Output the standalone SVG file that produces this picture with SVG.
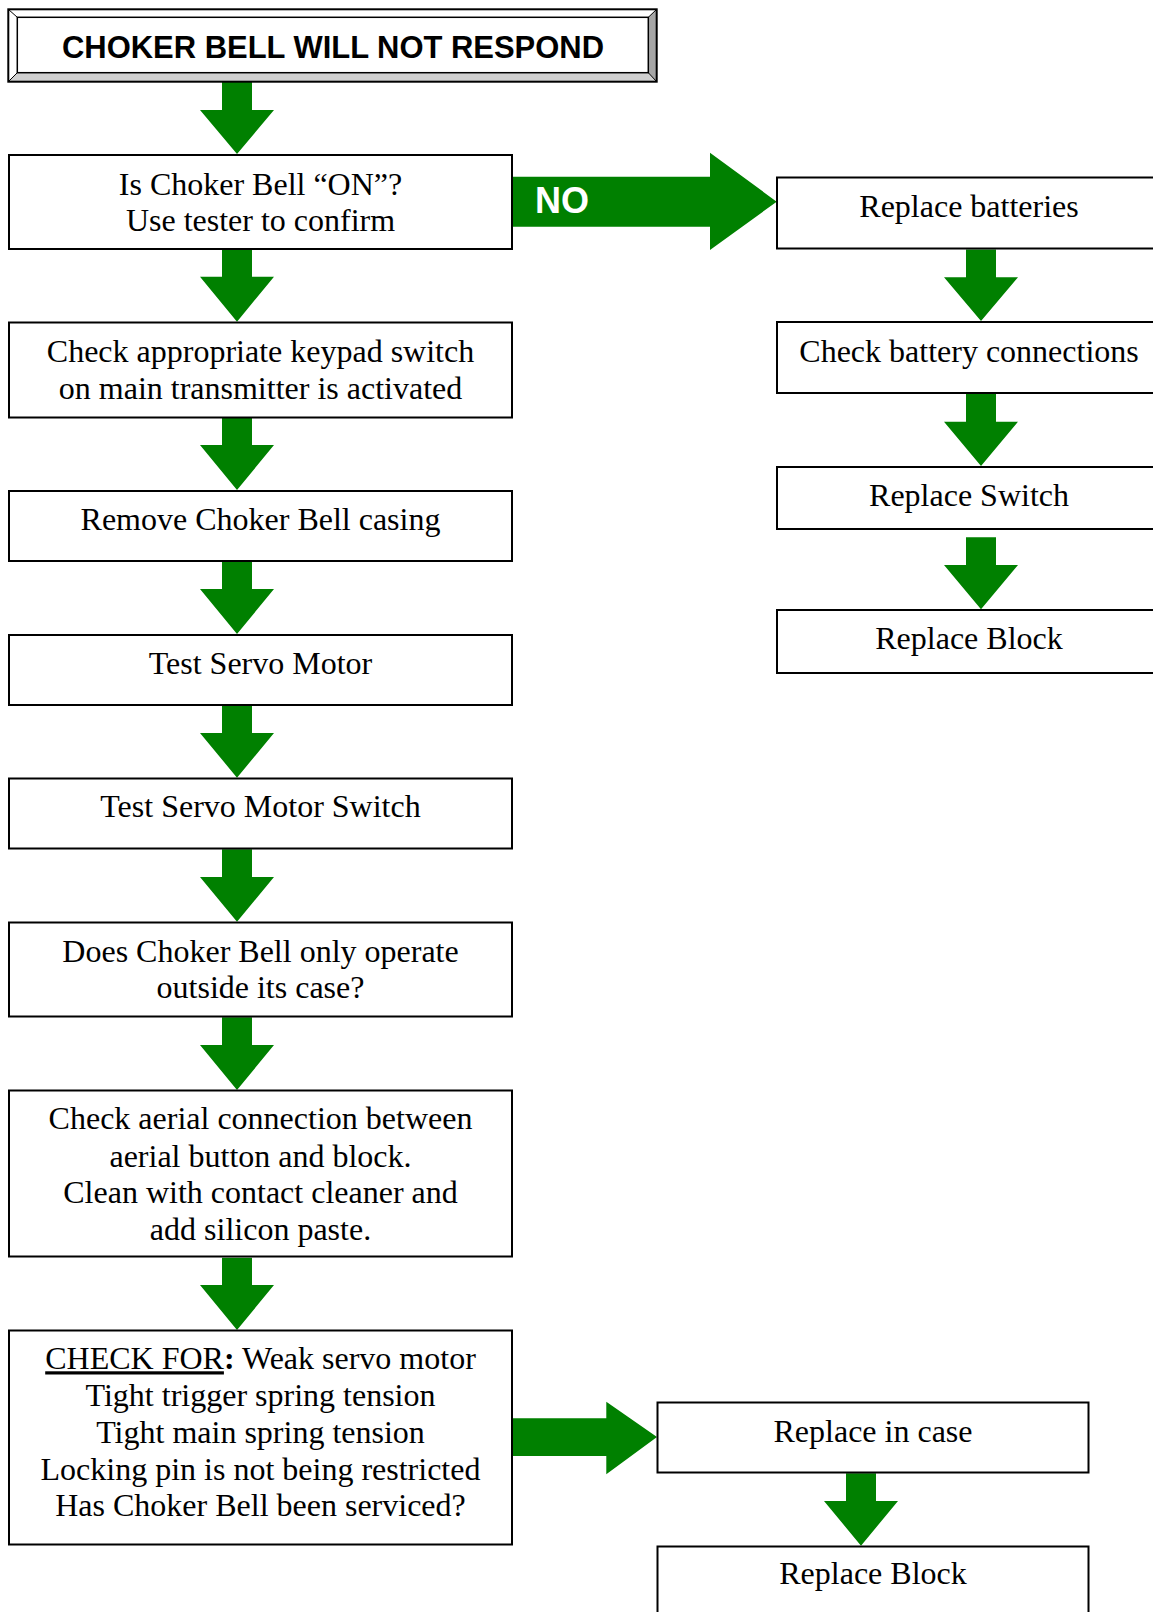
<svg xmlns="http://www.w3.org/2000/svg" width="1153" height="1612" viewBox="0 0 1153 1612">
<style>
.box{fill:#ffffff;stroke:#000000;stroke-width:2}
.t{font-family:"Liberation Serif","Times New Roman",serif;font-size:32px;fill:#000000;text-anchor:middle}
.arr{fill:#008000;stroke:none}
.title{font-family:"Liberation Sans",Arial,sans-serif;font-size:32px;font-weight:bold;fill:#000000;text-anchor:middle}
.lbl{font-family:"Liberation Sans",Arial,sans-serif;font-size:36px;font-weight:bold;fill:#ffffff}
</style>
<rect width="1153" height="1612" fill="#ffffff"/>
<g id="connectors">
  <polygon class="arr" points="222,82 252,82 252,110 274,110 237,154 200,110 222,110"/>
  <polygon class="arr" points="222,249.5 252,249.5 252,276.7 274,276.7 237,321.7 200,276.7 222,276.7"/>
  <polygon class="arr" points="222,417.7 252,417.7 252,445 274,445 237,490 200,445 222,445"/>
  <polygon class="arr" points="222,561.7 252,561.7 252,589 274,589 237,634 200,589 222,589"/>
  <polygon class="arr" points="222,705.7 252,705.7 252,733 274,733 237,777.7 200,733 222,733"/>
  <polygon class="arr" points="222,849.3 252,849.3 252,877 274,877 237,921.7 200,877 222,877"/>
  <polygon class="arr" points="222,1017.3 252,1017.3 252,1045 274,1045 237,1090 200,1045 222,1045"/>
  <polygon class="arr" points="222,1257.7 252,1257.7 252,1285 274,1285 237,1330 200,1285 222,1285"/>
  <polygon class="arr" points="966,249.5 996,249.5 996,277.3 1018,277.3 981,321 944,277.3 966,277.3"/>
  <polygon class="arr" points="966,393.3 996,393.3 996,421.7 1018,421.7 981,466 944,421.7 966,421.7"/>
  <polygon class="arr" points="966,537.3 996,537.3 996,565 1018,565 981,609.3 944,565 966,565"/>
  <polygon class="arr" points="846,1473.3 876,1473.3 876,1501 898,1501 861,1545.7 824,1501 846,1501"/>
  <polygon class="arr" points="512,176.7 710,176.7 710,152.7 776.7,201.7 710,250 710,226.7 512,226.7"/>
  <text class="lbl" x="535" y="212.7">NO</text>
  <polygon class="arr" points="512,1418.3 606.3,1418.3 606.3,1401.7 657,1437 606.3,1474.3 606.3,1456 512,1456"/>
</g>
<g id="title">
  <polygon points="8.3,9.3 656.7,9.3 648.3,17.3 17.3,17.3" fill="#ffffff"/>
  <polygon points="8.3,9.3 17.3,17.3 17.3,72.7 8.3,81.7" fill="#ffffff"/>
  <polygon points="8.3,81.7 17.3,72.7 648.3,72.7 656.7,81.7" fill="#d0d0d0"/>
  <polygon points="656.7,9.3 656.7,81.7 648.3,72.7 648.3,17.3" fill="#a6a6a6"/>
  <rect x="17.3" y="17.3" width="631" height="55.4" fill="#ffffff" stroke="#000000" stroke-width="1.5"/>
  <line x1="8.3" y1="9.3" x2="17.3" y2="17.3" stroke="#000000" stroke-width="1"/>
  <line x1="656.7" y1="9.3" x2="648.3" y2="17.3" stroke="#000000" stroke-width="1"/>
  <line x1="8.3" y1="81.7" x2="17.3" y2="72.7" stroke="#000000" stroke-width="1"/>
  <line x1="656.7" y1="81.7" x2="648.3" y2="72.7" stroke="#000000" stroke-width="1"/>
  <rect x="8.3" y="9.3" width="648.4" height="72.4" fill="none" stroke="#000000" stroke-width="2"/>
  <text class="title" x="333" y="58.3" textLength="542" lengthAdjust="spacingAndGlyphs">CHOKER BELL WILL NOT RESPOND</text>
</g>
<g id="n1">
  <rect class="box" x="9" y="155" width="503" height="94"/>
  <text class="t" x="260.5" y="195">Is Choker Bell “ON”?</text>
  <text class="t" x="260.5" y="230.7">Use tester to confirm</text>
</g>
<g id="n2">
  <rect class="box" x="9" y="322.5" width="503" height="95"/>
  <text class="t" x="260.5" y="361.7">Check appropriate keypad switch</text>
  <text class="t" x="260.5" y="399">on main transmitter is activated</text>
</g>
<g id="n3">
  <rect class="box" x="9" y="491" width="503" height="70"/>
  <text class="t" x="260.5" y="530">Remove Choker Bell casing</text>
</g>
<g id="n4">
  <rect class="box" x="9" y="635" width="503" height="70"/>
  <text class="t" x="260.5" y="674">Test Servo Motor</text>
</g>
<g id="n5">
  <rect class="box" x="9" y="778.5" width="503" height="70"/>
  <text class="t" x="260.5" y="817.3">Test Servo Motor Switch</text>
</g>
<g id="n6">
  <rect class="box" x="9" y="922.5" width="503" height="94"/>
  <text class="t" x="260.5" y="961.7">Does Choker Bell only operate</text>
  <text class="t" x="260.5" y="998.3">outside its case?</text>
</g>
<g id="n7">
  <rect class="box" x="9" y="1090.5" width="503" height="166"/>
  <text class="t" x="260.5" y="1129.3">Check aerial connection between</text>
  <text class="t" x="260.5" y="1166.7">aerial button and block.</text>
  <text class="t" x="260.5" y="1203.3">Clean with contact cleaner and</text>
  <text class="t" x="260.5" y="1240">add silicon paste.</text>
</g>
<g id="n8">
  <rect class="box" x="9" y="1330.5" width="503" height="214"/>
  <text class="t" x="260.5" y="1369.3"><tspan text-decoration="underline">CHECK FOR</tspan><tspan font-weight="bold">:</tspan> Weak servo motor</text>
  <text class="t" x="260.5" y="1406">Tight trigger spring tension</text>
  <text class="t" x="260.5" y="1443">Tight main spring tension</text>
  <text class="t" x="260.5" y="1479.5">Locking pin is not being restricted</text>
  <text class="t" x="260.5" y="1516.3">Has Choker Bell been serviced?</text>
</g>
<g id="r1">
  <rect class="box" x="777" y="177.5" width="385" height="71"/>
  <text class="t" x="969" y="217.3">Replace batteries</text>
</g>
<g id="r2">
  <rect class="box" x="777" y="322" width="385" height="71"/>
  <text class="t" x="969" y="361.7">Check battery connections</text>
</g>
<g id="r3">
  <rect class="box" x="777" y="467" width="385" height="62"/>
  <text class="t" x="969" y="505.7">Replace Switch</text>
</g>
<g id="r4">
  <rect class="box" x="777" y="610" width="385" height="63"/>
  <text class="t" x="969" y="649.3">Replace Block</text>
</g>
<g id="b1">
  <rect class="box" x="657.5" y="1402.5" width="431" height="70"/>
  <text class="t" x="873" y="1441.7">Replace in case</text>
</g>
<g id="b2">
  <rect class="box" x="657.5" y="1546.5" width="431" height="100"/>
  <text class="t" x="873" y="1584">Replace Block</text>
</g>
</svg>
